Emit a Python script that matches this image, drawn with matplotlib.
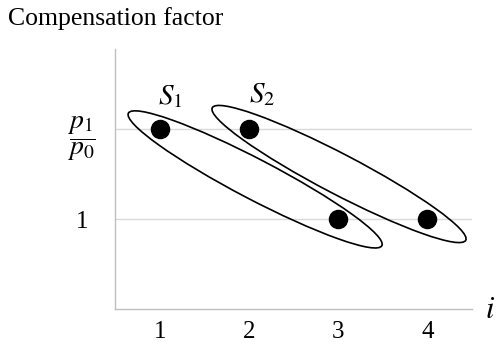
import matplotlib
matplotlib.use("Agg")
import matplotlib.pyplot as plt
from matplotlib.patches import Ellipse
from matplotlib.transforms import ScaledTranslation

# data
x_vals = [1, 2, 3, 4]
y_vals = [2, 2, 1, 1]
ytick_vals = [1, 2]
ytick_labels = ["1", r"$\dfrac{p_1}{p_0}$"]
xtick_labels = ["1", "2", "3", "4"]
set_names = [r"$S_1$", r"$S_2$"]
set_centers = [(2.07, 1.44), (3.01, 1.50)]
set_label_pos = [(1.12, 2.36), (2.15, 2.38)]

plt.rcParams['font.family'] = ['Liberation Serif', 'DejaVu Serif']
plt.rcParams['mathtext.fontset'] = 'stix'

fig = plt.figure(figsize=(4.96, 3.45), dpi=100)
ax = fig.add_axes([115/496, 1 - 309/345, (472-115)/496, (309-49)/345])
ax.set_xlim(0.5, 4.5)
ax.set_ylim(0, 2.889)

for s in ['top', 'right']:
    ax.spines[s].set_visible(False)
for s in ['left', 'bottom']:
    ax.spines[s].set_color('#bfbfbf')
    ax.spines[s].set_linewidth(1.0)

ax.set_yticks(ytick_vals)
ax.set_yticklabels(ytick_labels, fontsize=18)
ax.set_xticks(x_vals)
ax.set_xticklabels(xtick_labels, fontsize=18)
ax.tick_params(axis='both', length=0)
ax.tick_params(axis='x', pad=9)
ax.tick_params(axis='y', pad=23.8)
for lab in ax.get_yticklabels():
    lab.set_ha('center')
    if lab.get_text() != "1":
        lab.set_fontsize(20)
        lab.set_va('center')
        lab.set_transform(lab.get_transform() +
                          ScaledTranslation(0, -10/100, fig.dpi_scale_trans))
ax.grid(axis='y', color='#d9d9d9', linewidth=1.0)
ax.set_axisbelow(True)

ax.scatter(x_vals, y_vals, s=170, color='black', zorder=3, clip_on=False)

for (cx, cy) in set_centers:
    tr = fig.dpi_scale_trans + ScaledTranslation(cx, cy, ax.transData)
    e = Ellipse((0, 0), width=2.86, height=0.40, angle=-27.6, transform=tr,
                fill=False, edgecolor='black', linewidth=1.2, clip_on=False, zorder=4)
    ax.add_patch(e)

for name, (lx, ly) in zip(set_names, set_label_pos):
    ax.text(lx, ly, name, fontsize=21, ha='center', va='center')

fig.text(8/496, 1 - 19/345, "Compensation factor", fontsize=18.5, ha='left', va='center')
fig.text(485/496, 1 - 310/345, r"$i$", fontsize=22, ha='left', va='center')

fig.savefig("out.png", dpi=100)
